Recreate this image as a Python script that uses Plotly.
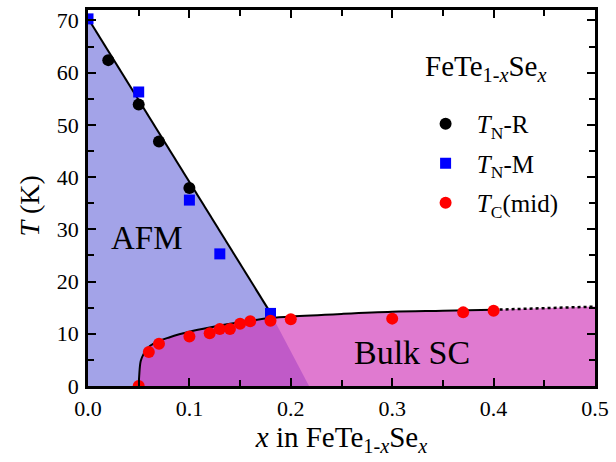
import plotly.graph_objects as go

# ---- data ----
tnr_x = [0.02, 0.05, 0.07, 0.10]
tnr_y = [62.4, 53.9, 46.8, 37.9]

tnm_x = [0.0, 0.05, 0.10, 0.13, 0.18]
tnm_y = [70.3, 56.3, 35.6, 25.3, 13.9]

tc_x = [0.05, 0.06, 0.07, 0.10, 0.12, 0.13, 0.14, 0.15, 0.16, 0.18, 0.20, 0.30, 0.37, 0.40]
tc_y = [0.0, 6.5, 8.1, 9.5, 10.1, 10.9, 10.9, 11.9, 12.4, 12.5, 12.8, 12.9, 14.1, 14.4]

# fitted boundary lines
afm_line_x = [0.0, 0.18]
afm_line_y = [70.4, 14.0]
afm_region_x = [0.0, 0.0, 0.18, 0.218]
afm_region_y = [0.0, 70.4, 14.0, 0.0]

tc_curve_x = [0.05, 0.0505, 0.052, 0.055, 0.058, 0.062, 0.07, 0.08, 0.09, 0.10,
              0.12, 0.14, 0.16, 0.18, 0.20, 0.25, 0.30, 0.35, 0.40]
tc_curve_y = [0.0, 2.0, 4.8, 6.2, 7.1, 7.8, 8.6, 9.3, 9.9, 10.4,
              11.2, 11.9, 12.5, 13.0, 13.3, 13.8, 14.2, 14.4, 14.6]
tc_ext_x = [0.40, 0.50]
tc_ext_y = [14.6, 15.2]

x_ticks = [0.0, 0.1, 0.2, 0.3, 0.4, 0.5]
y_ticks = [0, 10, 20, 30, 40, 50, 60, 70]

FONT = "Liberation Serif, Times New Roman, serif"
BLUE_FILL = "#a3a3e8"
PINK_FILL = "rgba(208,50,183,0.65)"

fig = go.Figure()

# AFM region
fig.add_trace(go.Scatter(x=afm_region_x, y=afm_region_y, mode="lines", fill="toself",
                         fillcolor=BLUE_FILL, line=dict(width=0), showlegend=False,
                         hoverinfo="skip"))
# SC region (under Tc curve + dotted extension)
sc_x = tc_curve_x + tc_ext_x[1:] + [tc_ext_x[-1], tc_curve_x[0]]
sc_y = tc_curve_y + tc_ext_y[1:] + [0.0, 0.0]
fig.add_trace(go.Scatter(x=sc_x, y=sc_y, mode="lines", fill="toself",
                         fillcolor=PINK_FILL, line=dict(width=0), showlegend=False,
                         hoverinfo="skip"))
# boundary lines
fig.add_trace(go.Scatter(x=afm_line_x, y=afm_line_y, mode="lines",
                         line=dict(color="black", width=2), showlegend=False))
fig.add_trace(go.Scatter(x=tc_curve_x, y=tc_curve_y, mode="lines",
                         line=dict(color="black", width=2, shape="spline"), showlegend=False))
fig.add_trace(go.Scatter(x=tc_ext_x, y=tc_ext_y, mode="lines",
                         line=dict(color="black", width=2.5, dash="dot"), showlegend=False))

# data markers
fig.add_trace(go.Scatter(x=tnr_x, y=tnr_y, mode="markers",
                         name="&nbsp;<i>T</i><sub>N</sub>-R", legendgroup="a",
                         marker=dict(symbol="circle", size=12, color="black")))
fig.add_trace(go.Scatter(x=tnm_x, y=tnm_y, mode="markers",
                         name="&nbsp;<i>T</i><sub>N</sub>-M", legendgroup="b",
                         marker=dict(symbol="square", size=11, color="#0000ff")))
fig.add_trace(go.Scatter(x=tc_x, y=tc_y, mode="markers",
                         name="&nbsp;<i>T</i><sub>C</sub>(mid)", legendgroup="c",
                         marker=dict(symbol="circle", size=12, color="#ff0000")))

axis_common = dict(
    showline=True, linecolor="black", linewidth=2.5, mirror="ticks",
    ticks="inside", ticklen=8, tickwidth=2, tickcolor="black",
    showgrid=False, zeroline=False,
    tickfont=dict(family=FONT, size=22, color="black"),
)

fig.update_xaxes(range=[0, 0.5], tickvals=x_ticks,
                 ticktext=[f"{v:.1f}" for v in x_ticks],
                 minor=dict(dtick=0.05, ticks="inside", ticklen=6, tickwidth=2, tickcolor="black"),
                 title=dict(text="<i>x</i> in FeTe<sub>1-<i>x</i></sub>Se<sub><i>x</i></sub>",
                            font=dict(family=FONT, size=29, color="black"), standoff=2),
                 ticklabelstandoff=1,
                 **axis_common)
fig.update_yaxes(range=[0, 72], tickvals=y_ticks,
                 minor=dict(dtick=5, ticks="inside", ticklen=6, tickwidth=2, tickcolor="black"),
                 ticklabelstandoff=2,
                 **axis_common)

# y-axis title (placed slightly below the axis centre, as in the reference)
fig.add_annotation(x=-0.1158, y=0.478, xref="paper", yref="paper", xanchor="center",
                   yanchor="middle", textangle=-90, text="<i>T</i> (K)", showarrow=False,
                   font=dict(family=FONT, size=28, color="black"))

fig.add_annotation(x=0.058, y=28.4, xref="x", yref="y", text="AFM", showarrow=False,
                   font=dict(family=FONT, size=33, color="black"))
fig.add_annotation(x=0.32, y=6.4, xref="x", yref="y", text="Bulk SC", showarrow=False,
                   font=dict(family=FONT, size=34, color="black"))
fig.add_annotation(x=0.66, y=0.90, xref="paper", yref="paper", xanchor="left", yanchor="top",
                   text="FeTe<sub>1-<i>x</i></sub>Se<sub><i>x</i></sub>", showarrow=False,
                   font=dict(family=FONT, size=29, color="black"))

fig.update_layout(
    width=616, height=462,
    margin=dict(l=88, r=14, t=7, b=76),
    paper_bgcolor="white", plot_bgcolor="white",
    font=dict(family=FONT, color="black"),
    legend=dict(x=0.656, y=0.758, xanchor="left", yanchor="top",
                bgcolor="rgba(0,0,0,0)", borderwidth=0,
                traceorder="grouped", tracegroupgap=4, itemwidth=40,
                font=dict(family=FONT, size=25, color="black")),
    showlegend=True,
)

fig.write_html("out.html", config={"displayModeBar": False},
               post_script="document.body.style.margin='0';")
